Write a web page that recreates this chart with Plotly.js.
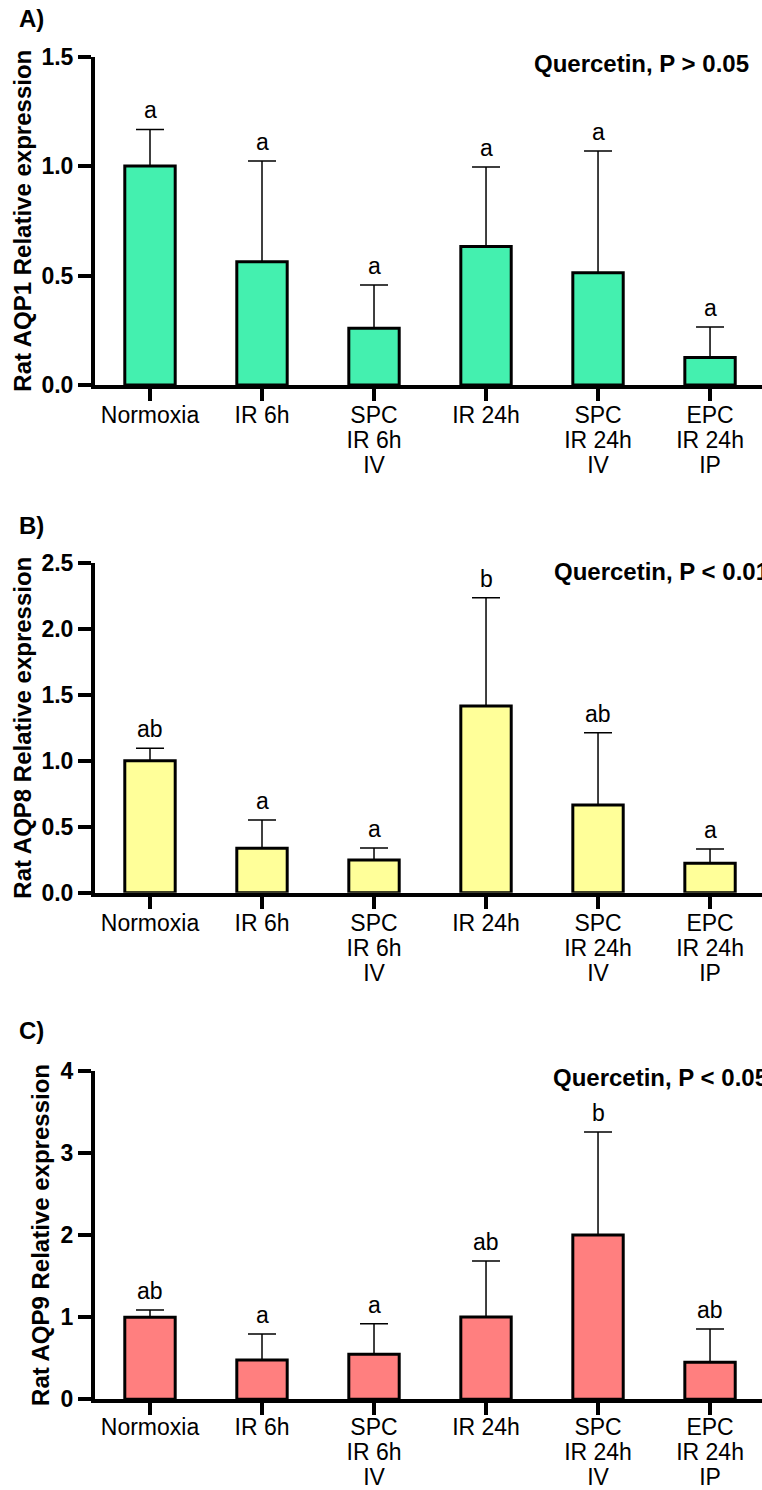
<!DOCTYPE html>
<html>
<head>
<meta charset="utf-8">
<script src="https://cdn.plot.ly/plotly-3.0.1.min.js"></script>
<style>
html,body{margin:0;padding:0;background:#fff;}
#chart{width:762px;height:1490px;}
</style>
</head>
<body>
<div id="chart"></div>
<script>
// ---- data ----
const categories = ['Normoxia', 'IR 6h', 'SPC<br>IR 6h<br>IV', 'IR 24h', 'SPC<br>IR 24h<br>IV', 'EPC<br>IR 24h<br>IP'];

const aqp1Mean = [1.00, 0.563, 0.259, 0.632, 0.513, 0.125];
const aqp1Err  = [0.167, 0.460, 0.198, 0.363, 0.555, 0.140];
const aqp1Letters = ['a', 'a', 'a', 'a', 'a', 'a'];

const aqp8Mean = [1.00, 0.336, 0.248, 1.414, 0.664, 0.223];
const aqp8Err  = [0.094, 0.215, 0.091, 0.821, 0.548, 0.108];
const aqp8Letters = ['ab', 'a', 'a', 'b', 'ab', 'a'];

const aqp9Mean = [1.00, 0.478, 0.548, 1.002, 2.000, 0.450];
const aqp9Err  = [0.087, 0.317, 0.372, 0.682, 1.254, 0.406];
const aqp9Letters = ['ab', 'a', 'a', 'ab', 'b', 'ab'];

const panelLabels = ['A)', 'B)', 'C)'];
const yTitles = ['Rat AQP1 Relative expression', 'Rat AQP8 Relative expression', 'Rat AQP9 Relative expression'];
const statTexts = ['Quercetin, P > 0.05', 'Quercetin, P < 0.01', 'Quercetin, P < 0.05'];

const yTickVals = [[0, 0.5, 1.0, 1.5], [0, 0.5, 1.0, 1.5, 2.0, 2.5], [0, 1, 2, 3, 4]];
const yTickText = [['0.0', '0.5', '1.0', '1.5'], ['0.0', '0.5', '1.0', '1.5', '2.0', '2.5'], ['0', '1', '2', '3', '4']];
const yMax = [1.5, 2.5, 4];

// ---- styling ----
const FONT = 'Liberation Sans, Arial, Helvetica, sans-serif';
const colors = ['#44F0AF', '#FFFF99', '#FF7F7F'];
const W = 762, H = 1490;
// pixel geometry of the three plot areas (top, bottom)
const panels = [[56.5, 385], [562.7, 892.7], [1070.7, 1399.3]];
const labelPos = [[17, 19], [17, 525], [17, 1030]];
const statPos = [[532, 63], [552, 571], [551, 1077]];
const titleStandoff = [4, 4, 5];
const labelStandoff = [-1, -1, -3];

// tick labels: tight line spacing (base font 19.2px -> 25px lines), glyphs at 23px
const tickText = categories.map(c => c.split('<br>').map(l => '<span style="font-size:23px">' + l + '</span>').join('<br>'));

const means = [aqp1Mean, aqp8Mean, aqp9Mean];
const errs = [aqp1Err, aqp8Err, aqp9Err];
const letters = [aqp1Letters, aqp8Letters, aqp9Letters];

const data = [];
const layout = {
  width: W, height: H,
  margin: {l: 0, r: 0, t: 0, b: 0},
  paper_bgcolor: '#fff', plot_bgcolor: '#fff',
  showlegend: false,
  font: {family: FONT, color: '#000'},
  annotations: []
};

for (let p = 0; p < 3; p++) {
  const xs = p === 0 ? 'x' : 'x' + (p + 1);
  const ys = p === 0 ? 'y' : 'y' + (p + 1);
  const xk = p === 0 ? 'xaxis' : 'xaxis' + (p + 1);
  const yk = p === 0 ? 'yaxis' : 'yaxis' + (p + 1);

  data.push({
    type: 'bar',
    x: categories,
    y: means[p],
    xaxis: xs, yaxis: ys,
    width: 0.45,
    marker: {color: colors[p], line: {color: '#000', width: 3}},
    error_y: {
      type: 'data', symmetric: false,
      array: errs[p], arrayminus: errs[p].map(() => 0),
      color: '#000', thickness: 1.5, width: 14
    },
    hoverinfo: 'skip'
  });

  const [top, bot] = panels[p];
  layout[xk] = {
    domain: [95 / W, 1],
    anchor: ys,
    type: 'category',
    range: [-0.491, 5.464],
    tickmode: 'array', tickvals: categories, ticktext: tickText,
    showline: true, linewidth: 4, linecolor: '#000',
    ticks: 'outside', ticklen: 12, tickwidth: 4, tickcolor: '#000',
    ticklabelstandoff: labelStandoff[p],
    tickfont: {family: FONT, size: 19.2, color: '#000'},
    showgrid: false, zeroline: false, fixedrange: true
  };
  layout[yk] = {
    domain: [1 - bot / H, 1 - top / H],
    anchor: xs,
    range: [0, yMax[p]],
    tickmode: 'array', tickvals: yTickVals[p], ticktext: yTickText[p],
    showline: true, linewidth: 4, linecolor: '#000',
    ticks: 'outside', ticklen: 13, tickwidth: 4, tickcolor: '#000',
    tickfont: {family: FONT, size: 23, color: '#000', weight: 'bold'},
    title: {text: yTitles[p], font: {family: FONT, size: 24, color: '#000', weight: 'bold'}, standoff: titleStandoff[p]},
    showgrid: false, zeroline: false, fixedrange: true
  };

  // significance letters
  for (let i = 0; i < categories.length; i++) {
    layout.annotations.push({
      x: categories[i], y: means[p][i] + errs[p][i],
      xref: xs, yref: ys,
      text: letters[p][i], showarrow: false,
      xanchor: 'center', yanchor: 'bottom', yshift: 4,
      font: {family: FONT, size: 23, color: '#000'}
    });
  }
  // panel label
  layout.annotations.push({
    x: labelPos[p][0] / W, y: 1 - labelPos[p][1] / H, xref: 'paper', yref: 'paper',
    text: panelLabels[p], showarrow: false, xanchor: 'left', yanchor: 'middle',
    font: {family: FONT, size: 24, color: '#000', weight: 'bold'}
  });
  // stat text
  layout.annotations.push({
    x: statPos[p][0] / W, y: 1 - statPos[p][1] / H, xref: 'paper', yref: 'paper',
    text: statTexts[p], showarrow: false, xanchor: 'left', yanchor: 'middle',
    font: {family: FONT, size: 24, color: '#000', weight: 'bold'}
  });
}

Plotly.newPlot('chart', data, layout, {staticPlot: true, displayModeBar: false});
</script>
</body>
</html>
